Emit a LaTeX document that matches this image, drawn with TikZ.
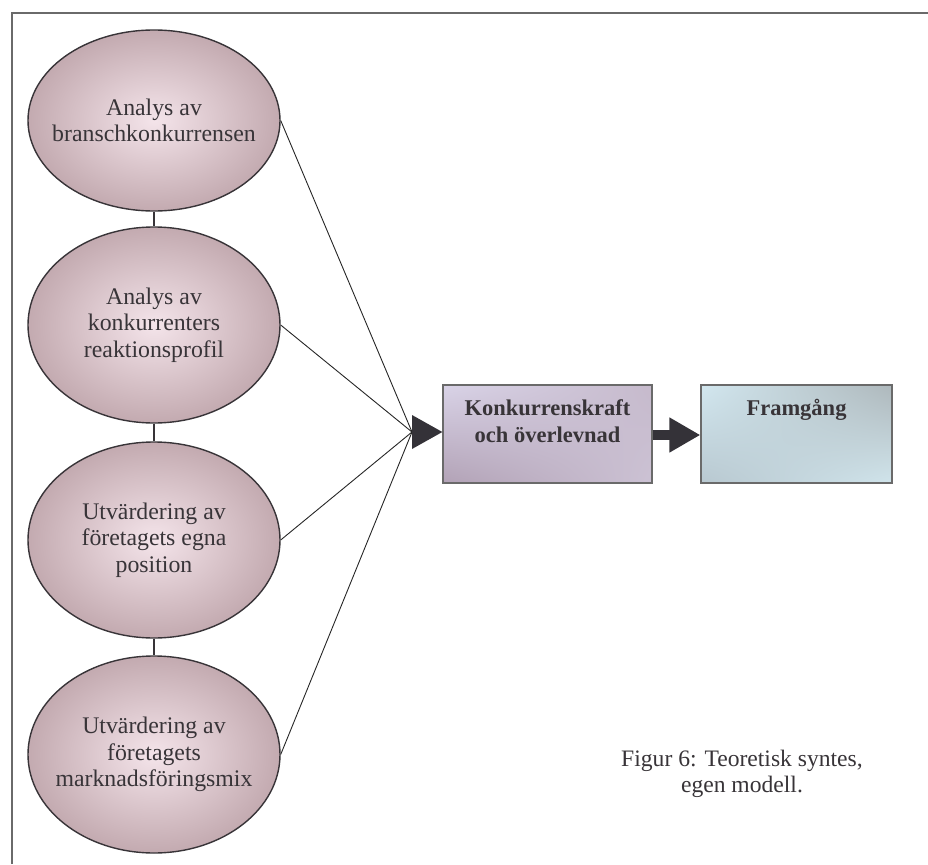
\documentclass[tikz,border=0pt]{standalone}
\usepackage{fontspec}
\setmainfont{Liberation Serif}
\usetikzlibrary{shapes.geometric,arrows.meta,calc,shadings}

\definecolor{inkgray}{HTML}{383438}
\definecolor{framegray}{HTML}{6A6A6A}
\definecolor{ovalin}{HTML}{F4E4EA}
\definecolor{ovalout}{HTML}{C3AAB0}
\definecolor{arrowdark}{HTML}{343238}
\definecolor{lavUL}{HTML}{D9D3E7}
\definecolor{lavUR}{HTML}{C6BACC}
\definecolor{lavLL}{HTML}{B2A2B6}
\definecolor{lavLR}{HTML}{CCC2D4}
\definecolor{blueUL}{HTML}{D2E7EF}
\definecolor{blueUR}{HTML}{AEB8BC}
\definecolor{blueLL}{HTML}{B8C8D0}
\definecolor{blueLR}{HTML}{D0E4EB}

\tikzset{
  oval/.style={ellipse, draw=inkgray, line width=1.4pt, inner sep=0pt,
    minimum width=252pt, inner color=ovalin, outer color=ovalout},
  ovaltext/.style={inner sep=0pt, align=center, text=inkgray,
    font=\fontsize{23.8}{26.5}\selectfont},
  boxbase/.style={rectangle, draw=framegray, line width=1.3pt, inner sep=0pt,
    minimum width=209pt, minimum height=98pt},
  boxone/.style={boxbase, upper left=lavUL, upper right=lavUR,
    lower left=lavLL, lower right=lavLR},
  boxtwo/.style={boxbase, minimum width=191pt, upper left=blueUL,
    upper right=blueUR, lower left=blueLL, lower right=blueLR},
  boxtext/.style={anchor=north, inner sep=0pt, align=center, text=inkgray,
    font=\bfseries\fontsize{22.5}{27}\selectfont},
  feeder/.style={draw=black!85, line width=0.9pt},
  link/.style={draw=inkgray, line width=1.4pt}
}

\begin{document}
\begin{tikzpicture}[x=1pt, y=-1pt]
  \useasboundingbox (0,0) rectangle (928,864);

  % outer frame (only left and top edges fall inside the page)
  \draw[framegray, line width=1.6pt] (12,864) -- (12,13) -- (928,13);

  % the four analysis ovals
  \node[oval, minimum height=181pt] (e1) at (154,120.5) {};
  \node[oval, minimum height=196pt] (e2) at (154,325) {};
  \node[oval, minimum height=196pt] (e3) at (154,540) {};
  \node[oval, minimum height=197pt] (e4) at (154,754.5) {};

  % their labels
  \node[ovaltext] (t1) at (e1.center) {Analys av\\branschkonkurrensen};
  \node[ovaltext] (t2) at (e2.center) {Analys av\\konkurrenters\\reaktionsprofil};
  \node[ovaltext] (t3) at (e3.center) {Utvärdering av\\företagets egna\\position};
  \node[ovaltext] (t4) at (e4.center) {Utvärdering av\\företagets\\marknadsföringsmix};

  % vertical links between the ovals
  \draw[link] (e1.south) -- (e2.north);
  \draw[link] (e2.south) -- (e3.north);
  \draw[link] (e3.south) -- (e4.north);

  % result boxes
  \node[boxone] (k) at (547.5,434) {};
  \node[boxtwo] (f) at (796.5,434) {};
  \node[boxtext] (klabel) at (547.5,399) {Konkurrenskraft\\och överlevnad};
  \node[boxtext] (flabel) at (796.5,399) {Framgång};

  % convergence point in front of the first box
  \coordinate (c) at (412,432);

  % feeders from each oval
  \draw[feeder] (e1.east) -- (c);
  \draw[feeder] (e2.east) -- (c);
  \draw[feeder] (e3.east) -- (c);
  \draw[feeder] (e4.east) -- (c);

  % arrowhead into the first box
  \fill[arrowdark] ($(c)+(0,-17)$) -- (c -| k.west) -- ($(c)+(0,17)$) -- cycle;

  % thick arrow between the boxes
  \draw[arrowdark, line width=10pt, -{Triangle[length=31pt,width=33pt]}]
    ($(k.east)+(0,1)$) -- ($(f.west)+(0,1)$);

  % caption
  \node[align=center, text=inkgray, font=\fontsize{23.6}{26}\selectfont, anchor=base]
    (cap) at (742,792) {Figur 6: Teoretisk syntes,\\egen modell.};
\end{tikzpicture}
\end{document}
